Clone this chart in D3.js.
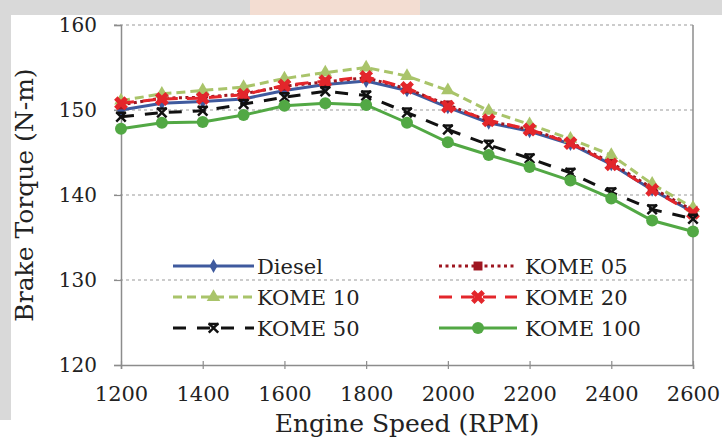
<!DOCTYPE html>
<html>
<head>
<meta charset="utf-8">
<script src="https://cdn.jsdelivr.net/npm/d3@7"></script>
<style>
  html, body { margin: 0; padding: 0; background: #ffffff; }
  svg { display: block; }
</style>
</head>
<body>
<svg id="chart" width="722" height="439"></svg>
<script>
// ---- data ----
const speeds = [1200, 1300, 1400, 1500, 1600, 1700, 1800, 1900, 2000, 2100, 2200, 2300, 2400, 2500, 2600];
const seriesNames = ["Diesel", "KOME 05", "KOME 10", "KOME 20", "KOME 50", "KOME 100"];
const diesel  = [150.0, 150.8, 151.0, 151.3, 152.3, 153.0, 153.4, 152.3, 150.3, 148.5, 147.5, 146.0, 143.6, 140.6, 138.0];
const kome05  = [150.6, 151.4, 151.5, 151.9, 152.8, 153.3, 153.8, 152.5, 150.6, 148.7, 147.7, 146.2, 143.8, 140.8, 138.2];
const kome10  = [151.1, 151.9, 152.3, 152.7, 153.7, 154.4, 155.0, 154.0, 152.3, 149.9, 148.3, 146.6, 144.7, 141.3, 138.5];
const kome20  = [150.8, 151.3, 151.4, 151.8, 152.9, 153.4, 153.9, 152.6, 150.4, 148.8, 147.7, 146.1, 143.6, 140.6, 137.9];
const kome50  = [149.2, 149.7, 149.9, 150.7, 151.5, 152.2, 151.7, 149.7, 147.7, 145.9, 144.3, 142.6, 140.3, 138.3, 137.2];
const kome100 = [147.8, 148.5, 148.6, 149.4, 150.5, 150.8, 150.6, 148.5, 146.2, 144.7, 143.3, 141.7, 139.6, 137.0, 135.7];
const yTicks = [120, 130, 140, 150, 160];
const xTicks = [1200, 1400, 1600, 1800, 2000, 2200, 2400, 2600];
const xTitle = "Engine Speed (RPM)";
const yTitle = "Brake Torque (N-m)";

const allValues = [diesel, kome05, kome10, kome20, kome50, kome100];

// ---- styles ----
const styles = [
  { color: "#3f5a9e", dash: null,    marker: "diamond" },
  { color: "#9e1620", dash: "3,3.5", marker: "square" },
  { color: "#a9c46a", dash: "9,5",   marker: "triangle" },
  { color: "#e3262b", dash: "13,9",  marker: "x" },
  { color: "#111111", dash: "13,11", marker: "star" },
  { color: "#52a844", dash: null,    marker: "circle" }
];

const svg = d3.select("#chart");
const FONT = "'DejaVu Serif', 'Liberation Serif', serif";

// background watermark-like grey bands
svg.append("rect").attr("x", 0).attr("y", 0).attr("width", 722).attr("height", 439).attr("fill", "#ffffff");
svg.append("rect").attr("x", 0).attr("y", 0).attr("width", 722).attr("height", 15).attr("fill", "#d9d9d9");
svg.append("rect").attr("x", 0).attr("y", 0).attr("width", 11).attr("height", 420).attr("fill", "#d9d9d9");
svg.append("rect").attr("x", 250).attr("y", 0).attr("width", 170).attr("height", 15).attr("fill", "#f3ddd2");

const L = 121, R = 693, T = 25, B = 365;
const x = d3.scaleLinear().domain([1200, 2600]).range([L, R]);
const y = d3.scaleLinear().domain([120, 160]).range([B, T]);

// grid lines
const grid = svg.append("g");
grid.selectAll("line").data(yTicks.filter(d => d > 120)).join("line")
  .attr("x1", L - 7).attr("x2", R)
  .attr("y1", d => y(d)).attr("y2", d => y(d))
  .attr("stroke", "#9a9a9a").attr("stroke-width", 1.2)
  .attr("stroke-dasharray", "3,3");

// right border
svg.append("line").attr("x1", R).attr("x2", R).attr("y1", T).attr("y2", B)
  .attr("stroke", "#8c8c8c").attr("stroke-width", 1.5);

// y axis
const yAxis = svg.append("g").attr("transform", `translate(${L},0)`)
  .call(d3.axisLeft(y).tickValues(yTicks).tickSize(7).tickPadding(17).tickFormat(d3.format("d")));
yAxis.select(".domain").attr("stroke", "#8c8c8c").attr("stroke-width", 1.5);
yAxis.selectAll(".tick line").attr("stroke", "#8c8c8c").attr("stroke-width", 1.2);
yAxis.selectAll("text").attr("font-family", FONT).attr("font-size", 20).attr("fill", "#222");

// x axis
const xAxis = svg.append("g").attr("transform", `translate(0,${B})`)
  .call(d3.axisBottom(x).tickValues(xTicks).tickSize(4).tickPadding(17).tickFormat(d3.format("d")));
xAxis.select(".domain").attr("stroke", "#8c8c8c").attr("stroke-width", 1.5);
xAxis.selectAll(".tick line").attr("y1", -4).attr("y2", 4).attr("stroke", "#8c8c8c").attr("stroke-width", 1.2);
xAxis.selectAll("text").attr("font-family", FONT).attr("font-size", 21).attr("fill", "#222");

// axis titles
svg.append("text").attr("x", (L + R) / 2).attr("y", 432)
  .attr("text-anchor", "middle").attr("font-family", FONT).attr("font-size", 25).attr("fill", "#222")
  .text(xTitle);
svg.append("text").attr("transform", `translate(33,${(T + B) / 2}) rotate(-90)`)
  .attr("text-anchor", "middle").attr("font-family", FONT).attr("font-size", 25).attr("fill", "#222")
  .text(yTitle);

// marker drawing
function drawMarker(g, type, color, cx, cy) {
  if (type === "diamond") {
    g.append("path").attr("d", d3.symbol(d3.symbolDiamond, 55)()).attr("transform", `translate(${cx},${cy})`)
      .attr("fill", color);
  } else if (type === "square") {
    g.append("path").attr("d", d3.symbol(d3.symbolSquare, 80)()).attr("transform", `translate(${cx},${cy})`)
      .attr("fill", color);
  } else if (type === "triangle") {
    g.append("path").attr("d", d3.symbol(d3.symbolTriangle, 80)()).attr("transform", `translate(${cx},${cy})`)
      .attr("fill", color);
  } else if (type === "x") {
    g.append("path").attr("d", d3.symbol(d3.symbolCross, 120)()).attr("transform", `translate(${cx},${cy}) rotate(45)`)
      .attr("fill", color);
  } else if (type === "star") {
    g.append("path").attr("d", d3.symbol(d3.symbolX, 60)()).attr("transform", `translate(${cx},${cy})`)
      .attr("fill", "none").attr("stroke", color).attr("stroke-width", 2.5);
    g.append("line").attr("x1", cx - 5).attr("x2", cx + 5).attr("y1", cy - 4).attr("y2", cy - 4)
      .attr("stroke", color).attr("stroke-width", 2.5);
  } else if (type === "circle") {
    g.append("circle").attr("cx", cx).attr("cy", cy).attr("r", 6).attr("fill", color);
  }
}

const line = d3.line().x((d, i) => x(speeds[i])).y(d => y(d));

// series
allValues.forEach((vals, si) => {
  const st = styles[si];
  const g = svg.append("g");
  g.append("path").datum(vals).attr("d", line)
    .attr("fill", "none").attr("stroke", st.color).attr("stroke-width", 3)
    .attr("stroke-dasharray", st.dash);
  vals.forEach((v, i) => drawMarker(g, st.marker, st.color, x(speeds[i]), y(v)));
});

// legend
const legendRows = [266, 297, 328];
const legendCols = [{ x1: 173, x2: 254, tx: 257 }, { x1: 439, x2: 517, tx: 525 }];
seriesNames.forEach((name, si) => {
  const row = Math.floor(si / 2), col = si % 2;
  const c = legendCols[col], ly = legendRows[row], st = styles[si];
  const g = svg.append("g");
  g.append("line").attr("x1", c.x1).attr("x2", c.x2).attr("y1", ly).attr("y2", ly)
    .attr("stroke", st.color).attr("stroke-width", 3).attr("stroke-dasharray", st.dash);
  drawMarker(g, st.marker, st.color, (c.x1 + c.x2) / 2, ly);
  g.append("text").attr("x", c.tx).attr("y", ly).attr("dy", "0.36em")
    .attr("font-family", FONT).attr("font-size", 21).attr("fill", "#222").text(name);
});
</script>
</body>
</html>
